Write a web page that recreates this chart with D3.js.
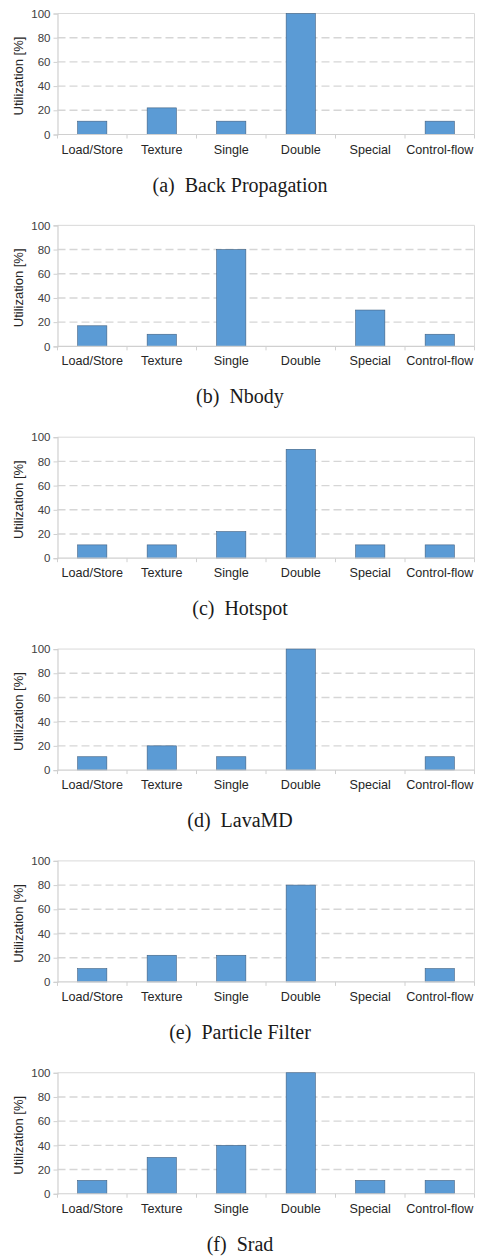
<!DOCTYPE html>
<html>
<head>
<meta charset="utf-8">
<script src="https://cdn.jsdelivr.net/npm/d3@7"></script>
<style>
    body { margin: 0; background: #fff; }
    svg { display: block; }
</style>
</head>
<body>
<div id="graph"></div>
<script>
var categories = ["Load/Store", "Texture", "Single", "Double", "Special", "Control-flow"];
var yTicks = [0, 20, 40, 60, 80, 100];

var backPropagation = [11, 22, 11, 100, 0, 11];
var nbody = [17, 10, 80, 0, 30, 10];
var hotspot = [11, 11, 22, 90, 11, 11];
var lavaMD = [11, 20, 11, 100, 0, 11];
var particleFilter = [11, 22, 22, 80, 0, 11];
var srad = [11, 30, 40, 100, 11, 11];

var captions = ["(a)  Back Propagation", "(b)  Nbody", "(c)  Hotspot", "(d)  LavaMD", "(e)  Particle Filter", "(f)  Srad"];
var panels = [backPropagation, nbody, hotspot, lavaMD, particleFilter, srad];

var svgWidth = 482, svgHeight = 1257;
var left = 57.5, plotWidth = 417, plotHeight = 121;
var firstTop = 13.5, panelStep = 211.85;

var svg = d3.select("#graph").append("svg")
    .attr("width", svgWidth)
    .attr("height", svgHeight);

var x = d3.scaleBand().domain(categories).range([0, plotWidth]).padding(0);
var y = d3.scaleLinear().domain([0, 100]).range([plotHeight, 0]);

function drawPanel(values, caption, index) {

    var top = firstTop + index * panelStep;
    var g = svg.append("g").attr("transform", "translate(" + left + "," + top + ")");

    // dashed gridlines
    g.selectAll("line.grid")
        .data(yTicks.filter(function (t) { return t > 0 && t < 100; }))
        .enter().append("line")
        .attr("class", "grid")
        .attr("x1", 0).attr("x2", plotWidth)
        .attr("y1", function (d) { return y(d); })
        .attr("y2", function (d) { return y(d); })
        .attr("stroke", "#d6d6d6")
        .attr("stroke-width", 1.4)
        .attr("stroke-dasharray", "8,4");

    // plot frame (top and right)
    g.append("path")
        .attr("d", "M0," + y(100) + "H" + plotWidth + "V" + y(0))
        .attr("fill", "none")
        .attr("stroke", "#d9d9d9")
        .attr("stroke-width", 1);

    // bars
    var barWidth = x.bandwidth() * 0.42;
    g.selectAll("rect.bar")
        .data(values)
        .enter().append("rect")
        .attr("class", "bar")
        .attr("x", function (d, i) { return x(categories[i]) + (x.bandwidth() - barWidth) / 2; })
        .attr("y", function (d) { return y(d); })
        .attr("width", barWidth)
        .attr("height", function (d) { return y(0) - y(d); })
        .attr("fill", "#5b9bd5")
        .attr("stroke", function (d) { return d > 0 ? "#3f5f80" : "none"; })
        .attr("stroke-width", 0.6);

    // y axis
    var yAxis = d3.axisLeft(y).tickValues(yTicks).tickSize(4).tickPadding(3);
    var ya = g.append("g").call(yAxis);
    ya.select(".domain").attr("stroke", "#d0d0d0").attr("stroke-width", 1.2);
    ya.selectAll(".tick line").attr("stroke", "#d0d0d0");
    ya.selectAll(".tick text")
        .attr("fill", "#404040")
        .style("font-family", "Liberation Sans, Arial, sans-serif")
        .style("font-size", "11.5px");

    // x axis: ticks at category boundaries
    var xa = g.append("g").attr("transform", "translate(0," + y(0) + ")");
    xa.append("line")
        .attr("x1", 0).attr("x2", plotWidth)
        .attr("stroke", "#d0d0d0")
        .attr("stroke-width", 1.2);
    var bounds = categories.map(function (c) { return x(c); }).concat([plotWidth]);
    xa.selectAll("line.tick")
        .data(bounds)
        .enter().append("line")
        .attr("class", "tick")
        .attr("x1", function (d) { return d; })
        .attr("x2", function (d) { return d; })
        .attr("y1", 0).attr("y2", 4)
        .attr("stroke", "#d0d0d0");
    xa.selectAll("text")
        .data(categories)
        .enter().append("text")
        .attr("x", function (d) { return x(d) + x.bandwidth() / 2; })
        .attr("y", 19)
        .attr("text-anchor", "middle")
        .attr("fill", "#262626")
        .style("font-family", "Liberation Sans, Arial, sans-serif")
        .style("font-size", "12.6px")
        .text(function (d) { return d; });

    // y label
    g.append("text")
        .attr("transform", "rotate(-90)")
        .attr("x", -plotHeight / 2 - 2)
        .attr("y", -34.5)
        .attr("text-anchor", "middle")
        .attr("fill", "#262626")
        .style("font-family", "Liberation Sans, Arial, sans-serif")
        .style("font-size", "13px")
        .text("Utilization [%]");

    // caption
    g.append("text")
        .attr("x", 240 - left)
        .attr("y", plotHeight + 57)
        .attr("text-anchor", "middle")
        .attr("fill", "#1a1a1a")
        .attr("xml:space", "preserve")
        .style("white-space", "pre")
        .style("font-family", "Liberation Serif, serif")
        .style("font-size", "20px")
        .text(caption);
}

panels.forEach(function (values, i) {
    drawPanel(values, captions[i], i);
});
</script>
</body>
</html>
